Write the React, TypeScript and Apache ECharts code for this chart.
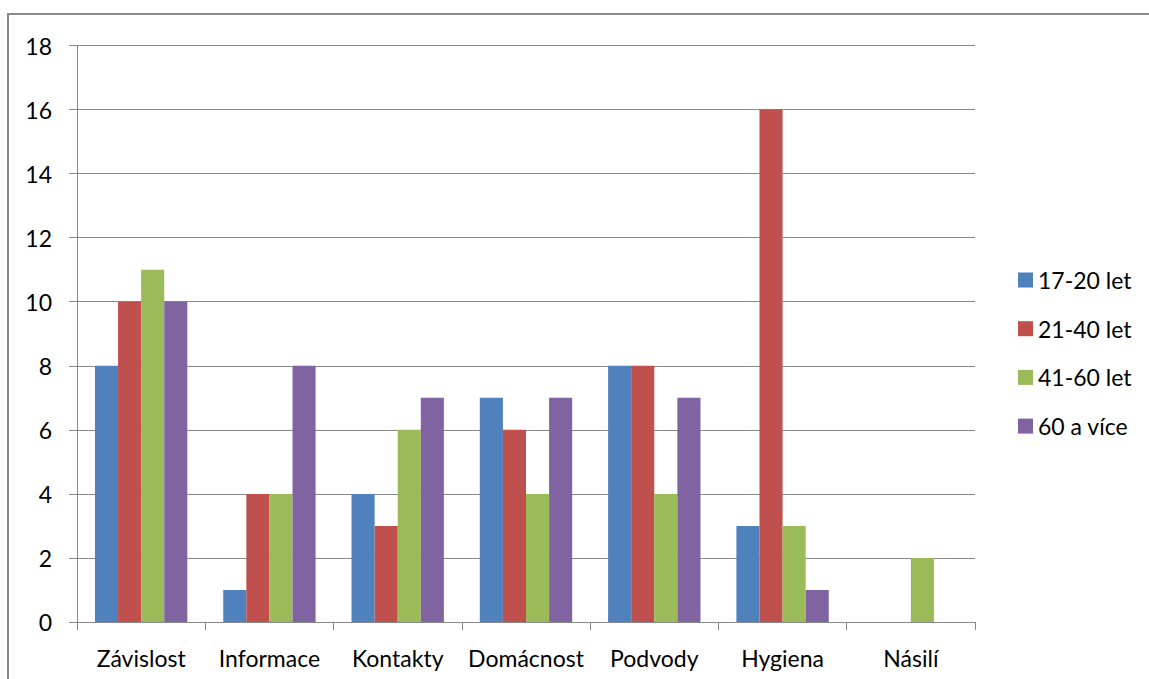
import React, { useEffect, useRef } from "react";
import * as echarts from "echarts";

const categories = ["Závislost", "Informace", "Kontakty", "Domácnost", "Podvody", "Hygiena", "Násilí"];
const seriesNames = ["17-20 let", "21-40 let", "41-60 let", "60 a více"];
const age17to20 = [8, 1, 4, 7, 8, 3, 0];
const age21to40 = [10, 4, 3, 6, 8, 16, 0];
const age41to60 = [11, 4, 6, 4, 4, 3, 2];
const age60plus = [10, 8, 7, 7, 7, 1, 0];
const colors = ["#4F81BD", "#C0504D", "#9BBB59", "#8064A2"];

const FONT = "Lato, 'Open Sans', sans-serif";

export default function App() {
  const ref = useRef<HTMLDivElement>(null);

  useEffect(() => {
    if (!ref.current) return;
    const chart = echarts.init(ref.current, undefined, { renderer: "svg" });
    const values = [age17to20, age21to40, age41to60, age60plus];
    chart.setOption({
      animation: false,
      backgroundColor: "#ffffff",
      textStyle: { fontFamily: FONT },
      graphic: [
        {
          type: "rect",
          shape: { x: 8, y: 14, width: 1200, height: 700 },
          style: { fill: "none", stroke: "#8a8a8a", lineWidth: 2 },
          silent: true,
        },
      ],
      grid: { left: 77, top: 45.5, right: 174, bottom: 57 },
      legend: {
        orient: "vertical",
        left: 1018,
        top: 268,
        padding: 0,
        itemWidth: 15,
        itemHeight: 15,
        itemGap: 24.7,
        itemTextGap: 5,
        icon: "rect",
        data: seriesNames,
        textStyle: { fontFamily: FONT, fontSize: 23, color: "#000", lineHeight: 24 },
      },
      xAxis: {
        type: "category",
        data: categories,
        axisLine: { lineStyle: { color: "#888", width: 1 } },
        axisTick: { show: true, length: 8, lineStyle: { color: "#888" } },
        axisLabel: {
          interval: 0,
          hideOverlap: false,
          fontFamily: FONT,
          fontSize: 23,
          color: "#000",
          margin: 24,
          lineHeight: 24,
        },
      },
      yAxis: {
        type: "value",
        min: 0,
        max: 18,
        interval: 2,
        axisLine: { show: true, lineStyle: { color: "#888", width: 1 } },
        axisTick: { show: true, length: 8, lineStyle: { color: "#888" } },
        axisLabel: { fontFamily: FONT, fontSize: 23, color: "#000", margin: 25 },
        splitLine: { show: true, lineStyle: { color: "#888", width: 1 } },
      },
      series: seriesNames.map((name, i) => ({
        name,
        type: "bar",
        data: values[i],
        barGap: "0%",
        barCategoryGap: "28%",
        itemStyle: { color: colors[i] },
      })),
    });
    return () => chart.dispose();
  }, []);

  return (
    <div
      ref={ref}
      style={{ position: "fixed", left: 0, top: 0, width: 1149, height: 679 }}
    />
  );
}
